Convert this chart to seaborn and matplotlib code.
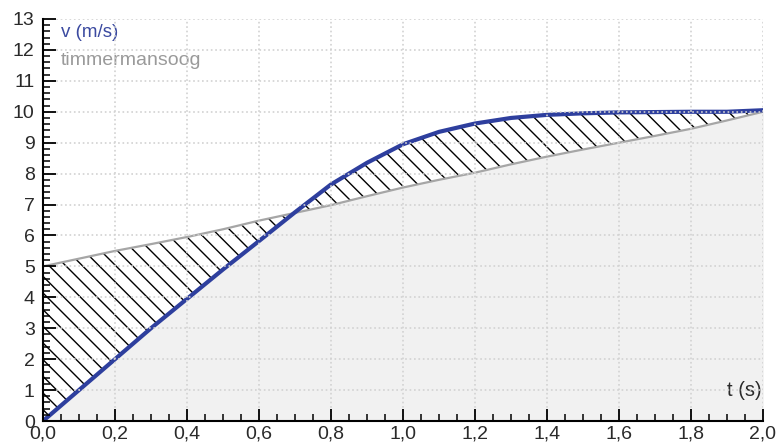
import numpy as np
import pandas as pd
import matplotlib
matplotlib.use("Agg")
import matplotlib.pyplot as plt
import matplotlib.ticker as mticker
import seaborn as sns

# time axis (s), shared by both series
t = [0.0, 0.1, 0.2, 0.3, 0.4, 0.5, 0.6, 0.7, 0.8, 0.9, 1.0,
     1.1, 1.2, 1.3, 1.4, 1.5, 1.6, 1.7, 1.8, 1.9, 2.0]
# measured velocity v (m/s)
v = [0.0, 1.0, 2.0, 3.0, 3.95, 4.9, 5.82, 6.75, 7.65, 8.35, 8.95,
     9.35, 9.62, 9.8, 9.9, 9.95, 9.98, 9.99, 10.0, 10.0, 10.05]
# "timmermansoog" estimate line
eye = [5.0, 5.25, 5.5, 5.72, 5.95, 6.2, 6.48, 6.73, 6.98, 7.27, 7.55,
       7.8, 8.03, 8.3, 8.55, 8.78, 9.0, 9.22, 9.45, 9.72, 10.0]

x_ticks = [0.0, 0.2, 0.4, 0.6, 0.8, 1.0, 1.2, 1.4, 1.6, 1.8, 2.0]
y_ticks = list(range(0, 14))

df = pd.DataFrame({"t": t, "v": v, "eye": eye})

sns.set_theme(style="ticks", rc={"xtick.bottom": True, "ytick.left": True,
                                 "xtick.minor.visible": True, "ytick.minor.visible": True})
plt.rcParams["font.family"] = ["Liberation Sans", "DejaVu Sans"]
plt.rcParams["hatch.linewidth"] = 1.0

fig = plt.figure(figsize=(7.76, 4.48), dpi=100)
ax = fig.add_axes([43 / 776, 1 - 421 / 448, 720 / 776, 402 / 448])

tt = df["t"].to_numpy()
vv = df["v"].to_numpy()
ee = df["eye"].to_numpy()

# light grey area under both curves
ax.fill_between(tt, 0, vv, color="#f1f1f1", linewidth=0, zorder=1)
ax.fill_between(tt, 0, ee, color="#f1f1f1", linewidth=0, zorder=1)
# hatched area between the curves
ax.fill_between(tt, ee, vv, interpolate=True, facecolor="white",
                edgecolor="black", hatch="\\\\", linewidth=0, zorder=2)

sns.lineplot(data=df, x="t", y="eye", ax=ax, color="#a6a6a6", linewidth=1.6, zorder=3)
sns.lineplot(data=df, x="t", y="v", ax=ax, color="#2e3f9e", linewidth=3.0, zorder=4)

ax.set_xlim(0, 2.0)
ax.set_ylim(0, 13)
ax.set_xlabel("")
ax.set_ylabel("")

ax.set_xticks(x_ticks)
ax.set_yticks(y_ticks)
ax.xaxis.set_minor_locator(mticker.MultipleLocator(0.05))
ax.yaxis.set_minor_locator(mticker.MultipleLocator(0.2))
ax.xaxis.set_major_formatter(mticker.FuncFormatter(lambda x, p: f"{x:.1f}".replace(".", ",")))
ax.yaxis.set_major_formatter(mticker.FuncFormatter(lambda y, p: f"{int(round(y))}"))

ax.tick_params(axis="both", which="major", direction="in", length=9, width=1.3,
               color="black", labelsize=14, labelcolor="#2a2a2a")
ax.tick_params(axis="both", which="minor", direction="in", length=5, width=1.1,
               color="black")
ax.tick_params(axis="y", which="major", pad=6)
ax.tick_params(axis="x", which="major", pad=3)

ax.grid(True, which="major", color="#d2d2d2", linestyle=":", linewidth=1.2)
ax.set_axisbelow(False)
for gl in ax.get_xgridlines() + ax.get_ygridlines():
    gl.set_zorder(2.5)
for axis in (ax.xaxis, ax.yaxis):
    axis.set_zorder(5)

for side in ["top", "right"]:
    ax.spines[side].set_visible(False)
for side in ["left", "bottom"]:
    ax.spines[side].set_color("black")
    ax.spines[side].set_linewidth(1.5)
    ax.spines[side].set_zorder(6)

ax.text(0.05, 12.55, "v (m/s)", color="#3b4aa0", fontsize=13.5, va="center", ha="left")
ax.text(0.05, 11.65, "timmermansoog", color="#9a9a9a", fontsize=14, va="center", ha="left")
ax.text(1.995, 0.98, "t (s)", color="#2a2a2a", fontsize=14.5, va="center", ha="right")

fig.savefig("out.png", dpi=100)
